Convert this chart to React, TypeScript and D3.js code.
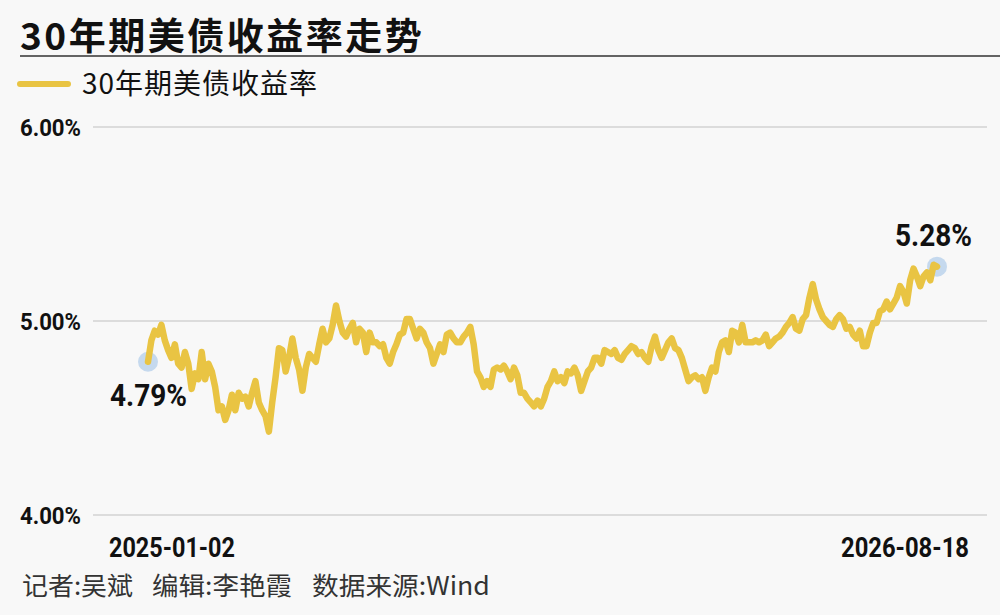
import React from "react";
import * as d3 from "d3";

const title = "30年期美债收益率走势";
const seriesName = "30年期美债收益率";
const yTicks = [4, 5, 6];
const xLabels = ["2025-01-02", "2026-08-18"];
const footerParts = ["记者:吴斌", "编辑:李艳霞", "数据来源:Wind"];

const yields1 = [4.79, 4.90, 4.95, 4.93, 4.98, 4.90, 4.85, 4.81, 4.88, 4.78, 4.76, 4.84, 4.78, 4.65, 4.73, 4.70, 4.84, 4.70, 4.78, 4.74, 4.66, 4.54, 4.56, 4.49, 4.54, 4.62, 4.54, 4.63, 4.60, 4.61, 4.56, 4.63, 4.69, 4.58, 4.54, 4.51, 4.43, 4.58, 4.71, 4.86, 4.85, 4.74, 4.81, 4.91, 4.81, 4.75, 4.64];
const yields2 = [4.76, 4.83, 4.81, 4.79, 4.88, 4.96, 4.89, 4.91, 4.98, 5.08, 5.00, 4.94, 4.92, 4.96, 4.99, 4.89, 4.96, 4.94, 4.84, 4.94, 4.89, 4.89, 4.87, 4.88, 4.81, 4.78, 4.84, 4.88, 4.93, 4.94, 5.01, 5.01, 4.96, 4.91, 4.96, 4.94, 4.89, 4.86, 4.78, 4.83, 4.88, 4.84, 4.93, 4.94, 4.91, 4.89, 4.89, 4.92];
const yields3 = [4.94, 4.97, 4.88, 4.74, 4.71, 4.66, 4.69, 4.66, 4.75, 4.76, 4.75, 4.77, 4.74, 4.70, 4.76, 4.72, 4.63, 4.63, 4.60, 4.58, 4.56, 4.59, 4.56, 4.60, 4.66, 4.69, 4.74, 4.69, 4.71, 4.68, 4.74, 4.73, 4.76, 4.72, 4.64, 4.69, 4.74, 4.76, 4.81, 4.81, 4.78, 4.85, 4.84, 4.83, 4.85, 4.81, 4.80];
const yields4 = [4.83, 4.85, 4.87, 4.86, 4.83, 4.84, 4.81, 4.79, 4.87, 4.92, 4.85, 4.81, 4.85, 4.89, 4.91, 4.86, 4.85, 4.81, 4.75, 4.69, 4.71, 4.72, 4.70, 4.71, 4.64, 4.71, 4.76, 4.74, 4.84, 4.89, 4.90, 4.84, 4.95, 4.94, 4.89, 4.98, 4.89, 4.89, 4.89, 4.90, 4.89, 4.90, 4.93, 4.87, 4.89, 4.91, 4.92, 4.94];
const yields5 = [4.97, 4.99, 5.02, 4.96, 4.95, 5.01, 5.03, 5.12, 5.19, 5.11, 5.06, 5.02, 5.00, 4.98, 4.97, 5.01, 5.03, 5.01, 4.96, 4.97, 4.93, 4.91, 4.95, 4.87, 4.87, 4.94, 4.99, 4.99, 5.05, 5.06, 5.10, 5.06, 5.09, 5.12, 5.18, 5.15, 5.09, 5.21, 5.27, 5.23, 5.18, 5.23, 5.25, 5.21, 5.29, 5.28];

const values = [...yields1, ...yields2, ...yields3, ...yields4, ...yields5];

const W = 1000;
const H = 615;
const YELLOW = "#e9c443";
const NUM_FONT = "Roboto, 'Liberation Sans', sans-serif";
const CJK_FONT = "'Noto Sans CJK SC', 'Noto Sans', sans-serif";

let ctx: CanvasRenderingContext2D | null = null;
function measure(text: string, size: number, weight: number, family: string) {
  if (!ctx) ctx = document.createElement("canvas").getContext("2d");
  if (!ctx) return text.length * size * 0.55;
  ctx.font = `${weight} ${size}px ${family}`;
  return ctx.measureText(text).width;
}

function FitText(props: {
  x: number;
  y: number;
  width: number;
  size: number;
  weight?: number;
  family: string;
  fill: string;
  children: string;
}) {
  const w = props.weight ?? 400;
  const natural = measure(props.children, props.size, w, props.family);
  const s = natural > 0 ? props.width / natural : 1;
  return (
    <text
      transform={`translate(${props.x},${props.y}) scale(${s},1)`}
      fontFamily={props.family}
      fontSize={props.size}
      fontWeight={w}
      fill={props.fill}
    >
      {props.children}
    </text>
  );
}

export default function App() {
  const x = d3.scaleLinear().domain([0, values.length - 1]).range([148, 937]);
  const y = d3.scaleLinear().domain([4, 6]).range([515, 127]);
  const line = d3
    .line<number>()
    .x((_, i) => x(i))
    .y((d) => y(d));
  const first = values[0];
  const last = values[values.length - 1];
  const n = values.length - 1;

  return (
    <svg
      width={W}
      height={H}
      style={{ position: "absolute", left: 0, top: 0, background: "#f8f8f8" }}
    >
      <rect x={0} y={0} width={W} height={H} fill="#f8f8f8" />
      <text x={20} y={50} fontFamily={CJK_FONT} fontSize={37} fontWeight={600} fill="#111" letterSpacing={2.5}>
        {title}
      </text>
      <line x1={20} x2={W} y1={56} y2={56} stroke="#333" strokeWidth={1.5} />
      <line x1={20} x2={68} y1={84} y2={84} stroke={YELLOW} strokeWidth={6} strokeLinecap="round" />
      <text x={82} y={94} fontFamily={CJK_FONT} fontSize={28} fill="#111" letterSpacing={1}>
        {seriesName}
      </text>

      {yTicks.map((t) => (
        <g key={t}>
          <line x1={93} x2={987} y1={y(t)} y2={y(t)} stroke="#dcdcdc" strokeWidth={2} />
          <FitText x={20} y={y(t) + 9} width={61} size={24} weight={700} family={NUM_FONT} fill="#111">
            {`${t.toFixed(2)}%`}
          </FitText>
        </g>
      ))}

      <circle cx={x(0)} cy={y(first)} r={10} fill="#c5d9ee" />
      <circle cx={x(n)} cy={y(last)} r={10} fill="#c5d9ee" />
      <path
        d={line(values) || ""}
        fill="none"
        stroke={YELLOW}
        strokeWidth={6.5}
        strokeLinejoin="round"
        strokeLinecap="round"
      />

      <FitText x={x(0) - 38} y={y(first) + 44} width={77} size={32} weight={700} family={NUM_FONT} fill="#111">
        {`${first.toFixed(2)}%`}
      </FitText>
      <FitText x={x(n) - 42} y={y(last) - 21} width={77} size={32} weight={700} family={NUM_FONT} fill="#111">
        {`${last.toFixed(2)}%`}
      </FitText>

      <FitText x={109} y={557} width={126} size={27} weight={700} family={NUM_FONT} fill="#111">
        {xLabels[0]}
      </FitText>
      <FitText x={841} y={557} width={128} size={27} weight={700} family={NUM_FONT} fill="#111">
        {xLabels[1]}
      </FitText>

      <FitText x={22} y={595} width={111} size={25} family={CJK_FONT} fill="#333">
        {footerParts[0]}
      </FitText>
      <FitText x={152} y={595} width={140} size={25} family={CJK_FONT} fill="#333">
        {footerParts[1]}
      </FitText>
      <FitText x={312} y={595} width={178} size={25} family={CJK_FONT} fill="#333">
        {footerParts[2]}
      </FitText>
    </svg>
  );
}
